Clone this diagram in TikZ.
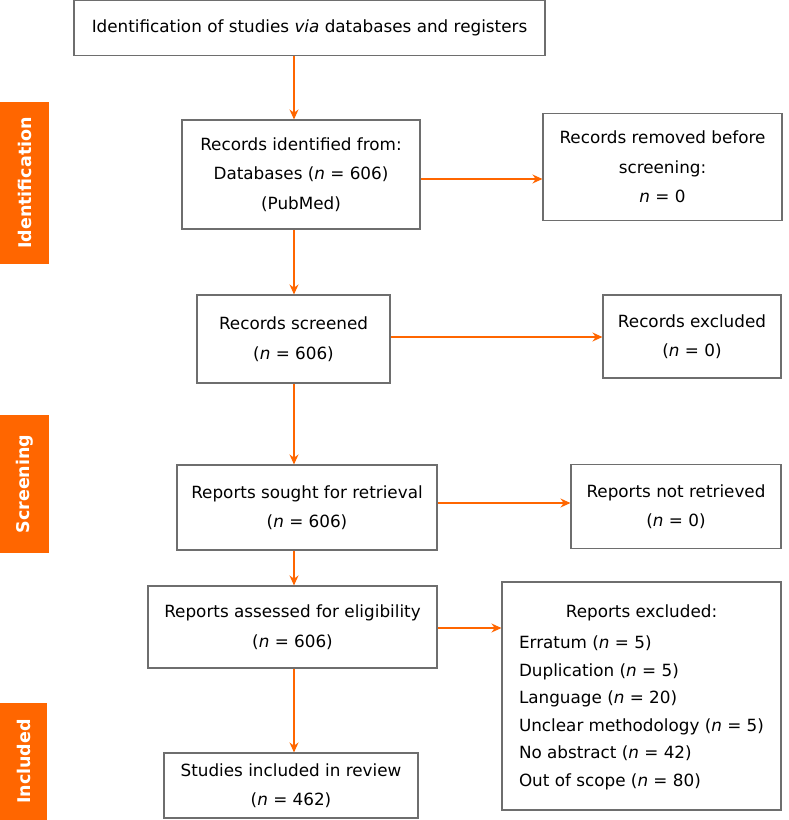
\documentclass[tikz,border=0pt]{standalone}
\usepackage{fontspec}
\setmainfont{DejaVu Sans}
\usetikzlibrary{arrows.meta}
\definecolor{prismaorange}{HTML}{FF6600}
\definecolor{boxgray}{HTML}{6E6E6E}

\begin{document}
\begin{tikzpicture}[x=1pt,y=-1pt,
    box/.style={draw=boxgray,line width=1.1pt,align=center,inner sep=0pt,font=\fontsize{16.8}{29.5}\selectfont},
    sidebar/.style={fill=prismaorange,text=white,rotate=90,inner sep=0pt,font=\bfseries\fontsize{17.5}{20}\selectfont},
    flow/.style={draw=prismaorange,line width=1.3pt,-{Stealth[length=10pt,width=9pt]}}]
            \useasboundingbox (0,0) rectangle (788,820);

            % phase bars
            \node[sidebar,minimum width=162,minimum height=49] (identbar) at (24.5,183) {Identification};
            \node[sidebar,minimum width=138,minimum height=49] (screenbar) at (24.5,484) {Screening};
            \node[sidebar,minimum width=117,minimum height=47] (inclbar) at (23.5,761.5) {Included};

            % main column
            \node[box,minimum width=471,minimum height=55] (top) at (309.5,28) {Identification of studies \textit{via} databases and registers};
            \node[box,minimum width=238,minimum height=109] (recid) at (301,174.5) {Records identified from:\\Databases (\textit{n} = 606)\\(PubMed)};
            \node[box,minimum width=193,minimum height=88] (screened) at (293.5,339) {Records screened\\(\textit{n} = 606)};
            \node[box,minimum width=260,minimum height=85] (sought) at (307,507.5) {Reports sought for retrieval\\(\textit{n} = 606)};
            \node[box,minimum width=289,minimum height=82] (assessed) at (292.5,627) {Reports assessed for eligibility\\(\textit{n} = 606)};
            \node[box,minimum width=254,minimum height=65] (included) at (291,785.5) {Studies included in review\\(\textit{n} = 462)};

            % side column
            \node[box,minimum width=239,minimum height=107] (removed) at (662.5,167) {Records removed before\\screening:\\\textit{n} = 0};
            \node[box,minimum width=178,minimum height=83] (recexcl) at (692,336.5) {Records excluded\\(\textit{n} = 0)};
            \node[box,minimum width=210,minimum height=84] (notret) at (676,506.5) {Reports not retrieved\\(\textit{n} = 0)};
            \node[box,minimum width=279,minimum height=228] (repexcl) at (641.5,696) {\fontsize{16.8}{27.5}\selectfont
                \begin{tabular}{@{}l@{}}
                \multicolumn{1}{c}{Reports excluded:}\\[4pt]
                Erratum (\textit{n} = 5)\\
                Duplication (\textit{n} = 5)\\
                Language (\textit{n} = 20)\\
                Unclear methodology (\textit{n} = 5)\\
                No abstract (\textit{n} = 42)\\
                Out of scope (\textit{n} = 80)
                \end{tabular}};

            % arrows
            \coordinate (spine) at (294,0);
            \draw[flow] (top.south -| spine) -- (recid.north -| spine);
            \draw[flow] (recid.south -| spine) -- (screened.north -| spine);
            \draw[flow] (screened.south -| spine) -- (sought.north -| spine);
            \draw[flow] (sought.south -| spine) -- (assessed.north -| spine);
            \draw[flow] (assessed.south -| spine) -- (included.north -| spine);
            \draw[flow] ([yshift=-4.5]recid.east) -- ([yshift=-4.5]recid.east -| removed.west);
            \draw[flow] ([yshift=2]screened.east) -- ([yshift=2]screened.east -| recexcl.west);
            \draw[flow] ([yshift=4.5]sought.east) -- ([yshift=4.5]sought.east -| notret.west);
            \draw[flow] ([yshift=-1]assessed.east) -- ([yshift=-1]assessed.east -| repexcl.west);
        \end{tikzpicture}
\end{document}
